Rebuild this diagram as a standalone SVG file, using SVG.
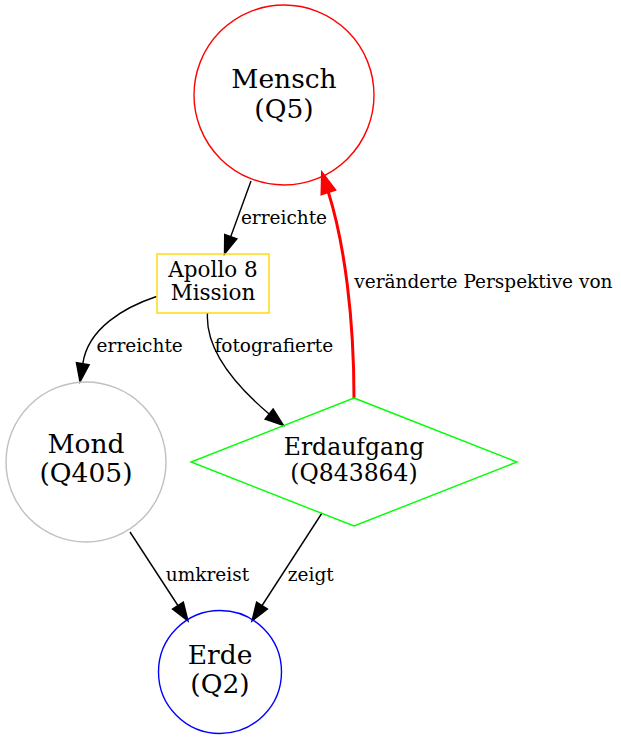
<svg xmlns="http://www.w3.org/2000/svg" width="621" height="739" viewBox="0 0 621 739">
<style>
text{font-family:"DejaVu Serif","Liberation Serif",serif;fill:#000;text-anchor:middle}
.n{font-size:26.5px}
.el{font-size:18.5px}
.e{fill:none;stroke:#000;stroke-width:1.4}
.ah{fill:#000;stroke:#000;stroke-width:1.4}
.re{fill:none;stroke:#ff0000;stroke-width:3}
.rah{fill:#ff0000;stroke:#ff0000;stroke-width:3}
</style>
<rect width="621" height="739" fill="#fff"/>
<g id="connectors">
<g id="e1">
<path class="e" d="M251,181 L230.8,236.6"/>
<polygon class="ah" points="236.9,238.8 224.5,254 224.7,234.4"/>
<text class="el" x="284" y="224">erreichte</text>
</g>
<g id="e2">
<path class="e" d="M156.5,296.5 C125,307 88,328 82.8,363.7"/>
<polygon class="ah" points="89.2,364.7 80,382 76.4,362.7"/>
<text class="el" x="139.7" y="352">erreichte</text>
</g>
<g id="e3">
<path class="e" d="M207.5,313 C205,350 235,385 269.1,414"/>
<polygon class="ah" points="273.1,408.9 283.5,425.5 265.1,419.1"/>
<text class="el" x="273.8" y="352">fotografierte</text>
</g>
<g id="e4">
<path class="re" d="M354,398 C354,320 345,245 328.2,191.6"/>
<polygon class="rah" points="334.4,189.6 322.5,174 322,193.6"/>
<text class="el" x="483.4" y="288">veränderte Perspektive von</text>
</g>
<g id="e5">
<path class="e" d="M130,532 L177.9,605.5"/>
<polygon class="ah" points="183.3,602 188,621 172.5,609"/>
<text class="el" x="207.5" y="581">umkreist</text>
</g>
<g id="e6">
<path class="e" d="M322,513 L262.1,605.5"/>
<polygon class="ah" points="267.5,609 252,621 256.6,602"/>
<text class="el" x="310.8" y="581">zeigt</text>
</g>
</g>
<g id="mensch">
<circle cx="284" cy="95" r="90" fill="none" stroke="#ff0000" stroke-width="1.4"/>
<text class="n" x="284" y="88">Mensch</text>
<text class="n" x="284" y="118">(Q5)</text>
</g>
<g id="apollo">
<rect x="157" y="254" width="112" height="59" fill="none" stroke="#ffd700" stroke-width="1.4"/>
<text x="213" y="277" style="font-size:21.5px">Apollo 8</text>
<text x="213" y="300" style="font-size:21.5px">Mission</text>
</g>
<g id="mond">
<circle cx="86" cy="462" r="80" fill="none" stroke="#c0c0c0" stroke-width="1.4"/>
<text class="n" x="86" y="453">Mond</text>
<text class="n" x="86" y="482">(Q405)</text>
</g>
<g id="erdaufgang">
<polygon points="354,398 517,462 354,526 191,462" fill="none" stroke="#00ff00" stroke-width="1.4"/>
<text x="354" y="455" style="font-size:23.5px">Erdaufgang</text>
<text x="354" y="481" style="font-size:23.5px">(Q843864)</text>
</g>
<g id="erde">
<circle cx="220" cy="672" r="61.5" fill="none" stroke="#0000ff" stroke-width="1.4"/>
<text class="n" x="220" y="664">Erde</text>
<text class="n" x="220" y="693">(Q2)</text>
</g>
</svg>
